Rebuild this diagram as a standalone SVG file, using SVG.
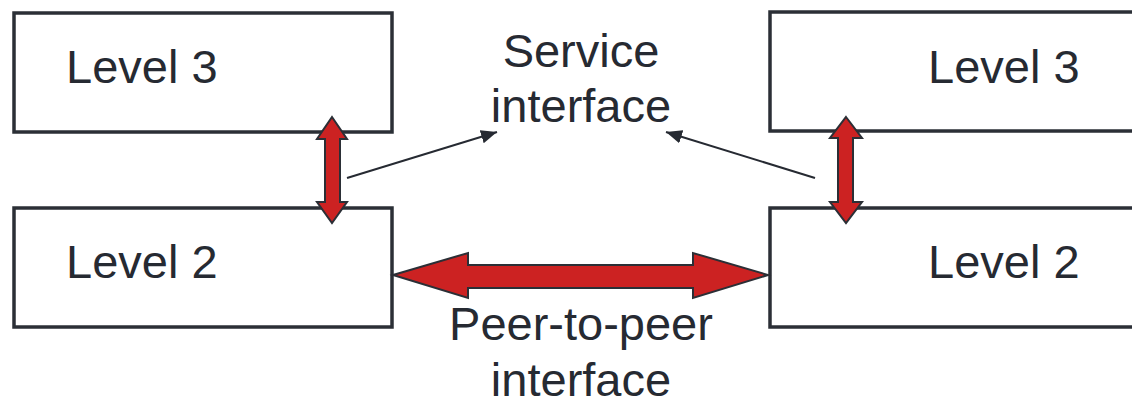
<svg xmlns="http://www.w3.org/2000/svg" width="1132" height="399" viewBox="0 0 1132 399">
<defs>
<style>
.box{fill:#fff;stroke:#2b2f36;stroke-width:3.5}
.t{font-family:"Liberation Sans",Arial,sans-serif;font-size:47px;fill:#262a32}
.red{fill:#cc2222;stroke:#2b2f36;stroke-width:2;stroke-linejoin:miter}
.thin{stroke:#262a32;stroke-width:2;fill:none}
</style>
<marker id="ah" viewBox="0 0 10 10" refX="10" refY="5" markerWidth="10" markerHeight="10" markerUnits="userSpaceOnUse" orient="auto"><path d="M0,0 L10,5 L0,10 Z" fill="#262a32"/></marker>
<marker id="ah2" viewBox="0 0 14 12" refX="14" refY="6" markerWidth="16" markerHeight="14" markerUnits="userSpaceOnUse" orient="auto"><path d="M0,0 L14,6 L0,12 Z" fill="#262a32"/></marker>
</defs>
<g id="l3-left"><rect class="box" x="14" y="13" width="378" height="119"/><text class="t" x="66" y="83">Level 3</text></g>
<g id="l3-right"><rect class="box" x="770" y="12" width="380" height="119"/><text class="t" x="928" y="83">Level 3</text></g>
<g id="l2-left"><rect class="box" x="14" y="208" width="378" height="119"/><text class="t" x="66" y="278">Level 2</text></g>
<g id="l2-right"><rect class="box" x="770" y="208" width="380" height="119"/><text class="t" x="928" y="278">Level 2</text></g>
<g id="service-label"><text class="t" x="581" y="67" text-anchor="middle">Service</text><text class="t" x="581" y="122" text-anchor="middle">interface</text></g>
<g id="peer-label"><text class="t" x="581" y="340" text-anchor="middle">Peer-to-peer</text><text class="t" x="581" y="396" text-anchor="middle">interface</text></g>
<g id="connectors">
<path class="red" d="M332,117 L347,139 L340,139 L340,202 L347,202 L332,223 L317,202 L325,202 L325,139 L317,139 Z"/>
<path class="red" d="M846,117 L862,138 L853,138 L853,202 L862,202 L846,223 L830,202 L838,202 L838,138 L830,138 Z"/>
<path class="red" d="M393,275 L468,253 L468,265 L693,265 L693,253 L768,275 L693,298 L693,288 L468,288 L468,298 Z"/>
<line class="thin" x1="347" y1="178" x2="497" y2="132" marker-end="url(#ah2)"/>
<line class="thin" x1="815" y1="178" x2="666" y2="132" marker-end="url(#ah2)"/>
</g>
</svg>
